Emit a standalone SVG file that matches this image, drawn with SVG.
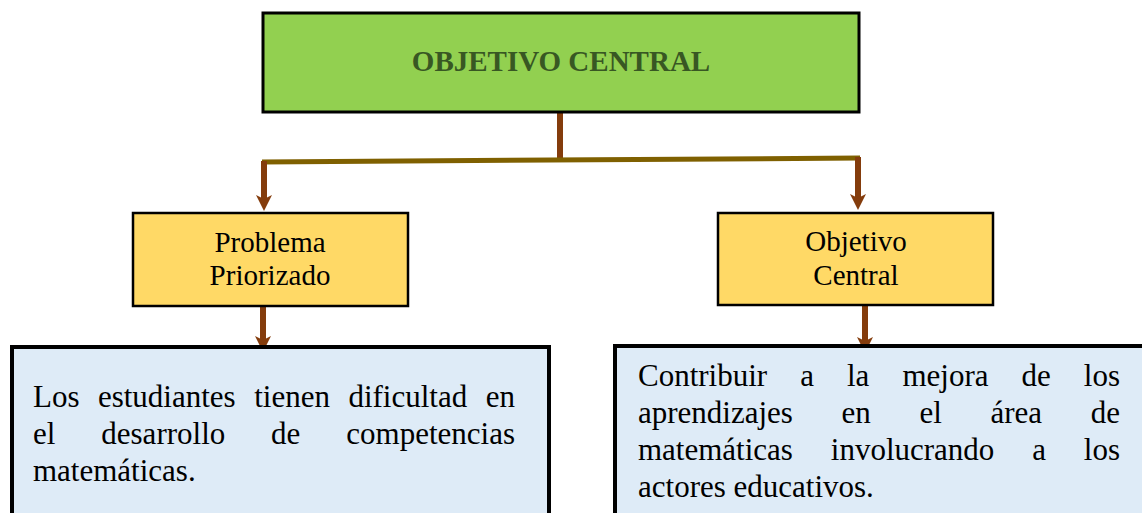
<svg xmlns="http://www.w3.org/2000/svg" width="1142" height="513" viewBox="0 0 1142 513">
<style>
.box{stroke:#000;}
.serif{font-family:"Liberation Serif","Times New Roman",serif;fill:#000;}
.mid{font-size:29px;text-anchor:middle;}
.body{font-size:31px;}
.brown{stroke:#843c0c;stroke-width:6;fill:none;}
.olive{stroke:#7f6000;stroke-width:5;fill:none;}
</style>
<defs>
<marker id="ah" viewBox="0 0 16 16" refX="6" refY="8" markerWidth="16" markerHeight="16" markerUnits="userSpaceOnUse" orient="auto">
<path d="M0,0 L16,8 L0,16 L4,8 Z" fill="#843c0c"/>
</marker>
</defs>
<rect width="1142" height="513" fill="#fff"/>
<g id="connectors">
<line class="brown" x1="560" y1="113" x2="560" y2="161" stroke-width="5"/>
<line class="olive" x1="262" y1="162" x2="860" y2="158"/>
<line class="brown" x1="264" y1="161" x2="264" y2="201" marker-end="url(#ah)"/>
<line class="brown" x1="858" y1="157" x2="858" y2="200" marker-end="url(#ah)"/>
<line class="brown" x1="263" y1="307" x2="263" y2="342" marker-end="url(#ah)"/>
<line class="brown" x1="865" y1="306" x2="865" y2="343" marker-end="url(#ah)"/>
</g>
<g id="objetivo-central-top">
<rect class="box" x="263" y="13" width="596" height="99" fill="#92d050" stroke-width="3"/>
<text class="serif" x="561" y="71" font-size="29" font-weight="bold" text-anchor="middle" style="fill:#385723">OBJETIVO CENTRAL</text>
</g>
<g id="problema-priorizado">
<rect class="box" x="133" y="213" width="275" height="93" fill="#ffd966" stroke-width="2.5"/>
<text class="serif mid" x="270" y="252">Problema</text>
<text class="serif mid" x="270" y="285">Priorizado</text>
</g>
<g id="objetivo-central">
<rect class="box" x="718" y="213" width="275" height="92" fill="#ffd966" stroke-width="2.5"/>
<text class="serif mid" x="856" y="251">Objetivo</text>
<text class="serif mid" x="856" y="285">Central</text>
</g>
<g id="problema-texto">
<rect class="box" x="12" y="347" width="537" height="200" fill="#deebf7" stroke-width="4"/>
<text class="serif body" y="407"><tspan x="33">Los</tspan><tspan x="97.9">estudiantes</tspan><tspan x="254.2">tienen</tspan><tspan x="348.4">dificultad</tspan><tspan x="485.7">en</tspan></text>
<text class="serif body" y="444"><tspan x="33">el</tspan><tspan x="101.3">desarrollo</tspan><tspan x="271.1">de</tspan><tspan x="346.3">competencias</tspan></text>
<text class="serif body" x="33" y="481">matemáticas.</text>
</g>
<g id="objetivo-texto">
<rect class="box" x="615" y="346" width="560" height="200" fill="#deebf7" stroke-width="4"/>
<text class="serif body" y="386"><tspan x="638">Contribuir</tspan><tspan x="800.2">a</tspan><tspan x="847">la</tspan><tspan x="902.4">mejora</tspan><tspan x="1021.5">de</tspan><tspan x="1083.8">los</tspan></text>
<text class="serif body" y="423"><tspan x="638">aprendizajes</tspan><tspan x="841.5">en</tspan><tspan x="919.4">el</tspan><tspan x="990.4">área</tspan><tspan x="1090.7">de</tspan></text>
<text class="serif body" y="460"><tspan x="638">matemáticas</tspan><tspan x="830.8">involucrando</tspan><tspan x="1032.2">a</tspan><tspan x="1083.8">los</tspan></text>
<text class="serif body" x="638" y="497">actores educativos.</text>
</g>
</svg>
